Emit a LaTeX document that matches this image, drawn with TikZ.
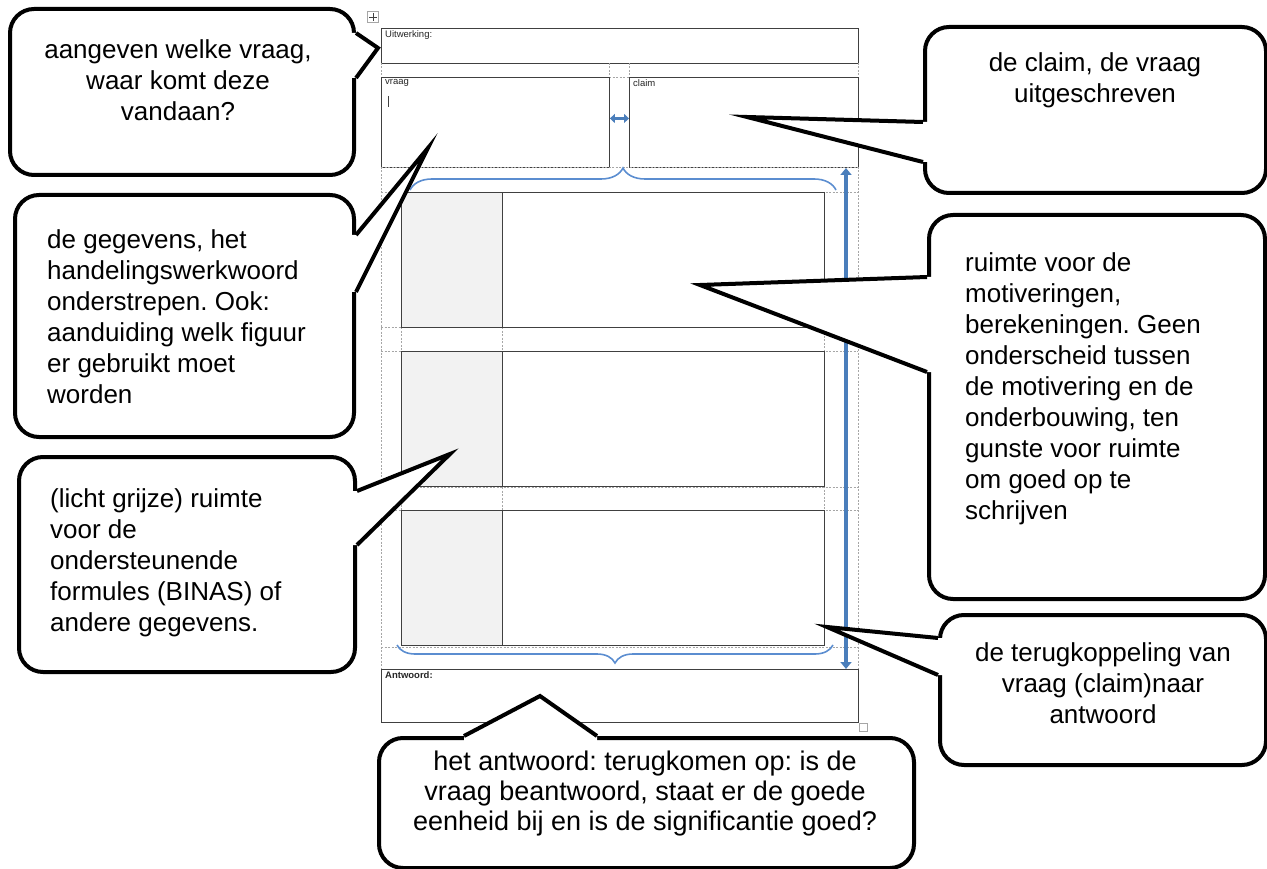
\documentclass[tikz,border=0pt]{standalone}
\usepackage{fontspec}
\setmainfont{Liberation Sans}
\usetikzlibrary{
  positioning,
  arrows.meta,
  calc,
  decorations.pathreplacing
}
\definecolor{arrowblue}{HTML}{4A7EBB}
\definecolor{braceblue}{HTML}{5B8DD0}
\definecolor{cellgray}{HTML}{F2F2F2}
\definecolor{gridgray}{HTML}{A6A6A6}
\definecolor{formline}{HTML}{404040}
\frenchspacing

% tail of a speech bubble: base a, tip, base b, shift into the bubble
\newcommand{\bubbletail}[4]{%
  \fill[white] ($(#1)+(#4)$) -- (#1) -- (#2) -- (#3) -- ($(#3)+(#4)$) -- cycle;
  \draw[tail] (#1) -- (#2) -- (#3);
}

\begin{document}
\begin{tikzpicture}[
  x=1pt, y=-1pt,
  bubble/.style={draw, line width=4pt, rounded corners=24pt, fill=white,
                 anchor=north west, inner sep=0pt},
  tail/.style={line width=4pt},
  say/.style={font=\fontsize{26}{31}\selectfont, align=center, inner sep=0pt},
  sayleft/.style={say, align=left, anchor=west},
  formbox/.style={draw=formline, line width=0.9pt, anchor=north west, inner sep=0pt},
  gridline/.style={gridgray, dash pattern=on 2pt off 1.5pt, line width=0.7pt},
  tag/.style={font=\fontsize{9.5}{10}\selectfont, text=black!85, anchor=north west, inner sep=0pt},
  brace/.style={decorate, decoration={brace, amplitude=#1}, braceblue, line width=1.6pt},
  bigarrow/.style={arrowblue, line width=4pt,
                   {Triangle[length=7pt,width=11pt]}-{Triangle[length=7pt,width=11pt]}}
]
  \useasboundingbox (0,0) rectangle (1267,869);

  % the answer form
  \node[draw=gridgray, line width=0.6pt, minimum size=11pt, inner sep=0pt] (grip) at (373,17) {};
  \draw[formline, line width=0.6pt] (grip.center) ++(0,-4) -- ++(0,8) (grip.center) ++(-4,0) -- ++(8,0);

  \node[formbox, minimum width=477, minimum height=35] (uitw) at (381,28) {};
  \node[tag] at (385,30) {Uitwerking:};

  \foreach \xx in {381,609,629,858}
    \draw[gridline] (\xx,63) -- (\xx,77);
  \draw[gridline] (609,77) -- (629,77);

  \node[formbox, minimum width=228, minimum height=90] (vraag) at (381,77) {};
  \node[formbox, minimum width=229, minimum height=90] (claim) at (629,77) {};
  \node[tag] at (385,79) {vraag};
  \node[tag] at (633,79) {claim};
  \draw[formline, line width=0.8pt] (388,96) -- (388,107);
  \draw[arrowblue, line width=3pt, {Triangle[length=5pt,width=9pt]}-{Triangle[length=5pt,width=9pt]}]
    ([yshift=4pt]vraag.east) -- ([yshift=4pt]claim.west);

  \foreach \yy in {167,192,327,351,487,510,647}
    \draw[gridline] (381,\yy) -- (858,\yy);
  \foreach \xx in {381,858}
    \draw[gridline] (\xx,167) -- (\xx,669);
  \draw[gridline] (824,192) -- (824,647);
  \foreach \xx in {401,502} {
    \draw[gridline] (\xx,327) -- (\xx,351);
    \draw[gridline] (\xx,487) -- (\xx,510);
  }

  \foreach \top [count=\i] in {192,351,510} {
    \node[formbox, fill=cellgray, minimum width=101, minimum height=135] (side\i) at (401,\top) {};
    \node[formbox, minimum width=322, minimum height=135] (work\i) at (502,\top) {};
  }

  \draw[brace=22] (410,190) -- (836,190);
  \draw[brace=18] (833,645) -- (397,645);

  \node[formbox, minimum width=477, minimum height=53] (antw) at (381,669) {};
  \node[tag, font=\fontsize{9.5}{10}\selectfont\bfseries] at (385,671) {Antwoord:};
  \node[draw=gridgray, line width=0.6pt, minimum size=8pt, inner sep=0pt] (resize) at (863,727) {};

  \coordinate (loop) at (846,168);
  \draw[bigarrow] (loop) -- (antw.north -| loop);

  % callouts
  \node[bubble, minimum width=344, minimum height=166] (b1) at (8,7) {};
  \node[say] (t1) at (178,80) {aangeven welke vraag,\\waar komt deze\\vandaan?};
  \coordinate (tip1) at (378,48);
  \coordinate (b1a) at ($(b1.north east)+(0,26)$);
  \coordinate (b1b) at ($(b1.north east)+(0,71)$);
  \bubbletail{b1a}{tip1}{b1b}{-8,0}

  \node[bubble, minimum width=341, minimum height=166] (b2) at (923,25) {};
  \node[say] (t2) at (1095,80) {de claim, de vraag\\uitgeschreven};
  \coordinate (tip2) at (747,117);
  \coordinate (b2a) at ($(b2.north west)+(0,97)$);
  \coordinate (b2b) at ($(b2.north west)+(0,137)$);
  \bubbletail{b2a}{tip2}{b2b}{8,0}

  \node[bubble, minimum width=339, minimum height=242] (b3) at (13,193) {};
  \node[sayleft] (t3) at (47,317) {de gegevens, het\\handelingswerkwoord\\onderstrepen. Ook:\\aanduiding welk figuur\\er gebruikt moet\\worden};
  \coordinate (tip3) at (428,148);
  \coordinate (b3a) at ($(b3.north east)+(0,42)$);
  \coordinate (b3b) at ($(b3.north east)+(0,99)$);
  \bubbletail{b3a}{tip3}{b3b}{-8,0}

  \node[bubble, minimum width=336, minimum height=215] (b4) at (17,455) {};
  \node[sayleft] (t4) at (50,563) {(licht grijze) ruimte\\voor de\\ondersteunende\\formules (BINAS) of\\andere gegevens.};
  \coordinate (tip4) at (450,454);
  \coordinate (b4a) at ($(b4.north east)+(0,36)$);
  \coordinate (b4b) at ($(b4.north east)+(0,90)$);
  \bubbletail{b4a}{tip4}{b4b}{-8,0}

  \node[bubble, minimum width=336, minimum height=384] (b5) at (927,213) {};
  \node[sayleft] (t5) at (965,389) {ruimte voor de\\motiveringen,\\berekeningen. Geen\\onderscheid tussen\\de motivering en de\\onderbouwing, ten\\gunste voor ruimte\\om goed op te\\schrijven};
  \coordinate (tip5) at (700,285);
  \coordinate (b5a) at ($(b5.north west)+(0,64)$);
  \coordinate (b5b) at ($(b5.north west)+(0,159)$);
  \bubbletail{b5a}{tip5}{b5b}{8,0}

  \node[bubble, minimum width=535, minimum height=130] (b6) at (377,736) {};
  \node[say, font=\fontsize{27}{30}\selectfont] (t6) at (645,794) {het antwoord: terugkomen op: is de\\vraag beantwoord, staat er de goede\\eenheid bij en is de significantie goed?};
  \coordinate (tip6) at (540,696);
  \coordinate (b6a) at ($(b6.north west)+(87,0)$);
  \coordinate (b6b) at ($(b6.north west)+(220,0)$);
  \bubbletail{b6a}{tip6}{b6b}{0,8}

  \node[bubble, minimum width=326, minimum height=150] (b7) at (938,613) {};
  \node[say] (t7) at (1103,683) {de terugkoppeling van\\vraag (claim)naar\\antwoord};
  \coordinate (tip7) at (827,627);
  \coordinate (b7a) at ($(b7.north west)+(0,25)$);
  \coordinate (b7b) at ($(b7.north west)+(0,62)$);
  \bubbletail{b7a}{tip7}{b7b}{8,0}
\end{tikzpicture}
\end{document}
